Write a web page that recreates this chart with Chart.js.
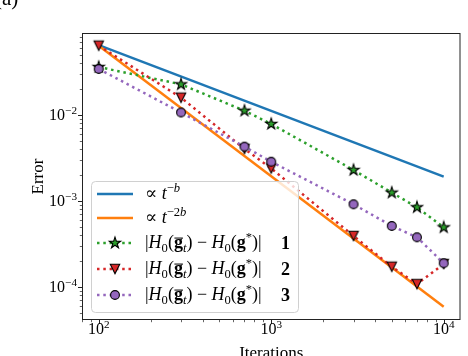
<!DOCTYPE html>
<html>
<head>
<meta charset="utf-8">
<script src="https://cdn.jsdelivr.net/npm/chart.js@4/dist/chart.umd.min.js"></script>
<style>
  html, body { margin: 0; padding: 0; background: #fff; }
</style>
</head>
<body>
<canvas id="errChart" width="468" height="356"></canvas>
<script>
// iterations where the error was measured
const iterations = [100, 300, 700, 1000, 3000, 5000, 7000, 10000];
const errRun1 = [0.0361, 0.0227, 0.0112, 0.00786, 0.00229, 0.00125, 0.000845, 0.000494];
const errRun2 = [0.064, 0.0159, 0.00403, 0.00239, 0.000392, 0.000172, 0.000108, 0.000185];
const errRun3 = [0.0343, 0.0107, 0.00428, 0.00286, 0.000916, 0.000512, 0.000378, 0.000189];

// reference rates, first to last iteration
const rateIters = [100, 10000];
const rateB = [0.065, 0.00192];
const rate2B = [0.064, 0.000059];

const xMajorTicks = [100, 1000, 10000];
const yMajorTicks = [1e-4, 1e-3, 1e-2];
const runIds = ["1", "2", "3"];

const SERIF = '"Liberation Serif", "DejaVu Serif", serif';

function toPoints(xs, ys) {
  return xs.map((x, i) => ({ x: x, y: ys[i] }));
}

function markerCanvas(shape, fill) {
  const c = document.createElement("canvas");
  c.width = 16;
  c.height = 16;
  const g = c.getContext("2d");
  g.translate(8, 8);
  g.beginPath();
  if (shape === "star") {
    const R = 5.9, r = R * 0.382;
    for (let k = 0; k < 10; k++) {
      const rad = k % 2 ? r : R;
      const ang = -Math.PI / 2 + (k * Math.PI) / 5;
      g.lineTo(rad * Math.cos(ang), rad * Math.sin(ang));
    }
  } else if (shape === "tri") {
    g.moveTo(0, 4.7);
    g.lineTo(-4.7, -4.7);
    g.lineTo(4.7, -4.7);
  } else {
    g.arc(0, 0, 4.4, 0, Math.PI * 2);
  }
  g.closePath();
  g.fillStyle = fill;
  g.fill();
  g.lineWidth = 1.1;
  g.strokeStyle = "#000";
  g.stroke();
  return c;
}

const starMark = markerCanvas("star", "#2ca02c");
const triMark = markerCanvas("tri", "#d62728");
const dotMark = markerCanvas("circle", "#9467bd");

// draws a run of text pieces (italic / bold / sub / sup / overline)
function drawRich(ctx, x, y, parts, size) {
  parts.forEach((p) => {
    const s = p.sub || p.sup ? size * 0.7 : size;
    ctx.font = (p.i ? "italic " : "") + (p.b ? "bold " : "") + s + "px " + SERIF;
    const dy = p.sub ? size * 0.22 : p.sup ? -size * 0.4 : 0;
    ctx.fillText(p.t, x, y + dy);
    const w = ctx.measureText(p.t).width;
    if (p.bar) ctx.fillRect(x + 0.5, y - size * 0.58, w - 0.5, 1);
    x += w;
  });
  return x;
}

function powLabel(v) {
  const e = Math.round(Math.log10(v));
  return [{ t: "10" }, { t: String(e).replace("-", "\u2212"), sup: true }];
}

function richWidth(ctx, parts, size) {
  let w = 0;
  parts.forEach((p) => {
    const s = p.sub || p.sup ? size * 0.7 : size;
    ctx.font = (p.i ? "italic " : "") + (p.b ? "bold " : "") + s + "px " + SERIF;
    w += ctx.measureText(p.t).width;
  });
  return w;
}

const axesPlugin = {
  id: "mplAxes",
  afterDraw(chart) {
    const { ctx, chartArea: a } = chart;
    const xs = chart.scales.x, ys = chart.scales.y;
    ctx.save();
    ctx.strokeStyle = "#222";
    ctx.fillStyle = "#000";
    ctx.lineWidth = 1;
    ctx.strokeRect(a.left + 0.5, a.top + 0.5, a.right - a.left - 1, a.bottom - a.top - 1);

    // minor + major ticks
    function ticks(scale, horiz) {
      const lo = Math.floor(Math.log10(scale.min)), hi = Math.ceil(Math.log10(scale.max));
      for (let d = lo; d <= hi; d++) {
        for (let k = 1; k <= 9; k++) {
          const v = k * Math.pow(10, d);
          if (v < scale.min || v > scale.max) continue;
          const p = Math.round(scale.getPixelForValue(v)) + 0.5;
          const len = k === 1 ? 4 : 2.2;
          ctx.lineWidth = k === 1 ? 1 : 0.7;
          ctx.beginPath();
          if (horiz) {
            ctx.moveTo(p, a.bottom);
            ctx.lineTo(p, a.bottom + len);
          } else {
            ctx.moveTo(a.left, p);
            ctx.lineTo(a.left - len, p);
          }
          ctx.stroke();
        }
      }
    }
    ticks(xs, true);
    ticks(ys, false);

    xMajorTicks.forEach((v) => {
      const parts = powLabel(v);
      const w = richWidth(ctx, parts, 16);
      drawRich(ctx, xs.getPixelForValue(v) - w / 2, a.bottom + 14, parts, 16);
    });
    yMajorTicks.forEach((v) => {
      const parts = powLabel(v);
      const w = richWidth(ctx, parts, 16);
      drawRich(ctx, a.left - 5 - w, ys.getPixelForValue(v) + 5, parts, 16);
    });

    ctx.font = "17px " + SERIF;
    ctx.textAlign = "center";
    ctx.fillText("Iterations", (a.left + a.right) / 2, 358);
    ctx.save();
    ctx.translate(43, (a.top + a.bottom) / 2);
    ctx.rotate(-Math.PI / 2);
    ctx.fillText("Error", 0, 0);
    ctx.restore();
    ctx.textAlign = "left";
    ctx.font = "21px " + SERIF;
    ctx.fillText("(a)", -5, 5);

    // legend
    const bx = 91, by = 181, bw = 207, bh = 131;
    ctx.beginPath();
    ctx.roundRect(bx + 0.5, by + 0.5, bw, bh, 4);
    ctx.fillStyle = "rgba(255,255,255,0.8)";
    ctx.fill();
    ctx.strokeStyle = "#d0d0d0";
    ctx.lineWidth = 1;
    ctx.stroke();

    const rows = [194, 218, 243, 269, 295];
    const handles = [
      { c: "#1f77b4", dash: [], m: null },
      { c: "#ff7f0e", dash: [], m: null },
      { c: "#2ca02c", dash: [2.5, 3.8], m: starMark },
      { c: "#d62728", dash: [2.5, 3.8], m: triMark },
      { c: "#9467bd", dash: [2.5, 3.8], m: dotMark },
    ];
    const hExpr = [
      { t: "|" }, { t: "H", i: true }, { t: "0", sub: true }, { t: "(" },
      { t: "g", b: true, bar: true }, { t: "t", i: true, sub: true }, { t: ")" },
      { t: " \u2212 " }, { t: "H", i: true }, { t: "0", sub: true }, { t: "(" },
      { t: "g", b: true }, { t: "*", sup: true }, { t: ")|" },
    ];
    rows.forEach((ry, i) => {
      const h = handles[i];
      ctx.strokeStyle = h.c;
      ctx.lineWidth = 2.5;
      ctx.setLineDash(h.dash);
      ctx.beginPath();
      ctx.moveTo(97, ry);
      ctx.lineTo(133, ry);
      ctx.stroke();
      ctx.setLineDash([]);
      if (h.m) ctx.drawImage(h.m, 115 - 8, ry - 8);
      ctx.fillStyle = "#000";
      if (i === 0) {
        drawRich(ctx, 145, ry + 5, [{ t: "\u221D " }, { t: "t", i: true }, { t: "\u2212", sup: true }, { t: "b", i: true, sup: true }], 18);
      } else if (i === 1) {
        drawRich(ctx, 145, ry + 5, [{ t: "\u221D " }, { t: "t", i: true }, { t: "\u22122", sup: true }, { t: "b", i: true, sup: true }], 18);
      } else {
        drawRich(ctx, 145, ry + 5, hExpr, 18);
        drawRich(ctx, 281, ry + 6, [{ t: runIds[i - 2], b: true }], 18);
      }
    });
    ctx.restore();
  },
};

const dotted = [2.5, 3.8];

new Chart(document.getElementById("errChart"), {
  type: "line",
  data: {
    datasets: [
      {
        label: "rate b",
        data: toPoints(rateIters, rateB),
        borderColor: "#1f77b4",
        borderWidth: 2.5,
        pointRadius: 0,
        order: 5,
      },
      {
        label: "rate 2b",
        data: toPoints(rateIters, rate2B),
        borderColor: "#ff7f0e",
        borderWidth: 2.5,
        pointRadius: 0,
        order: 4,
      },
      {
        label: "run 1",
        data: toPoints(iterations, errRun1),
        borderColor: "#2ca02c",
        borderWidth: 2.5,
        borderDash: dotted,
        pointStyle: starMark,
        pointRadius: 5,
        order: 3,
      },
      {
        label: "run 2",
        data: toPoints(iterations, errRun2),
        borderColor: "#d62728",
        borderWidth: 2.5,
        borderDash: dotted,
        pointStyle: triMark,
        pointRadius: 5,
        order: 2,
      },
      {
        label: "run 3",
        data: toPoints(iterations, errRun3),
        borderColor: "#9467bd",
        borderWidth: 2.5,
        borderDash: dotted,
        pointStyle: dotMark,
        pointRadius: 5,
        order: 1,
      },
    ],
  },
  options: {
    responsive: false,
    animation: false,
    layout: { padding: { left: 82, top: 33, right: 3, bottom: 36 } },
    plugins: { legend: { display: false }, tooltip: { enabled: false } },
    scales: {
      x: { type: "logarithmic", min: 80, max: 12515, display: false },
      y: { type: "logarithmic", min: 4.13e-5, max: 0.0898, display: false },
    },
  },
  plugins: [axesPlugin],
});
</script>
</body>
</html>
